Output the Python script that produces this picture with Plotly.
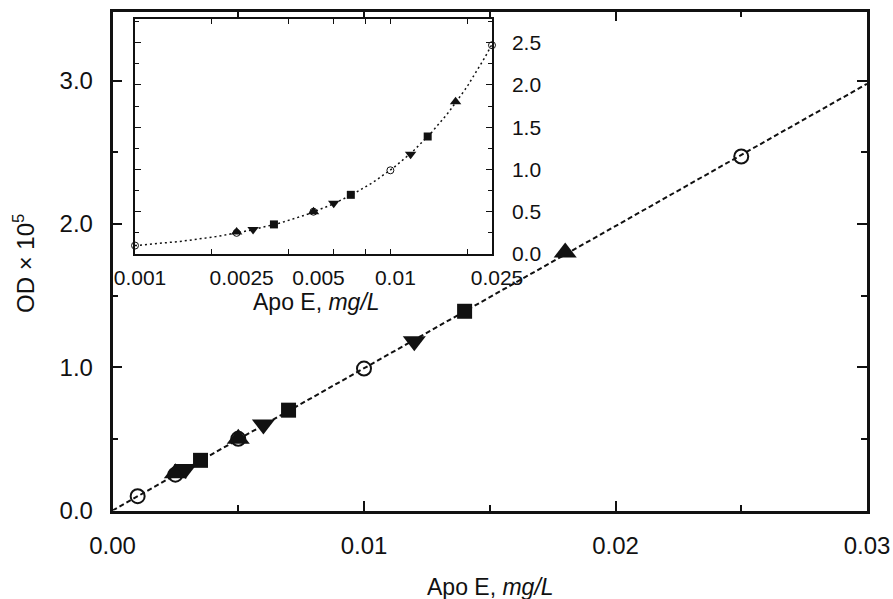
import numpy as np
import plotly.graph_objects as go

# ---- data ----
circle_x = [0.001, 0.0025, 0.005, 0.010, 0.025]
circle_y = [0.10, 0.25, 0.50, 0.99, 2.47]
tri_up_x = [0.0025, 0.005, 0.018]
tri_up_y = [0.26, 0.50, 1.80]
tri_dn_x = [0.0029, 0.006, 0.012]
tri_dn_y = [0.29, 0.60, 1.18]
square_x = [0.0035, 0.007, 0.014]
square_y = [0.35, 0.70, 1.39]

main_xticks = [0.0, 0.01, 0.02, 0.03]
main_xtext = ["0.00", "0.01", "0.02", "0.03"]
main_yticks = [0.0, 1.0, 2.0, 3.0]
main_ytext = ["0.0", "1.0", "2.0", "3.0"]
inset_xticks = [0.001, 0.0025, 0.005, 0.01, 0.025]
inset_xtext = ["0.001", "0.0025", "0.005", "0.01", "0.025"]
inset_xminor = [0.002, 0.004, 0.006, 0.008, 0.01, 0.02]
inset_yticks = [0.0, 0.5, 1.0, 1.5, 2.0, 2.5]
inset_ytext = ["0.0", "0.5", "1.0", "1.5", "2.0", "2.5"]

# fitted line through the origin (least squares from all the points)
all_x = np.array(circle_x + tri_up_x + tri_dn_x + square_x)
all_y = np.array(circle_y + tri_up_y + tri_dn_y + square_y)
slope = float((all_x * all_y).sum() / (all_x ** 2).sum())
fit_x_main = np.array([0.0, 0.03])
fit_x_inset = np.geomspace(0.001, 0.025, 120)

FONT = "Liberation Sans, Arial, Helvetica, sans-serif"
BLACK = "#111111"

fig = go.Figure()

# ---- main plot ----
fig.add_trace(go.Scatter(x=fit_x_main, y=slope * fit_x_main, mode="lines",
                         line=dict(color=BLACK, width=2, dash="5px,3px"),
                         xaxis="x", yaxis="y", hoverinfo="skip"))
main_series = [
    (circle_x, circle_y, "circle-open", 14, 2),
    (tri_up_x, tri_up_y, "triangle-up", 20, 0),
    (tri_dn_x, tri_dn_y, "triangle-down", 20, 0),
    (square_x, square_y, "square", 15, 0),
]
for xs, ys, sym, sz, lw in main_series:
    fig.add_trace(go.Scatter(x=xs, y=ys, mode="markers", cliponaxis=False,
                             marker=dict(symbol=sym, size=sz, color=BLACK,
                                         line=dict(color=BLACK, width=lw)),
                             xaxis="x", yaxis="y"))

# ---- inset ----
fig.add_trace(go.Scatter(x=fit_x_inset, y=slope * fit_x_inset, mode="lines",
                         line=dict(color=BLACK, width=1.5, dash="2px,3px"),
                         xaxis="x2", yaxis="y2", hoverinfo="skip", cliponaxis=False))
inset_series = [
    (circle_x, circle_y, "circle-open", 7, 1),
    (tri_up_x, tri_up_y, "triangle-up", 10, 0),
    (tri_dn_x, tri_dn_y, "triangle-down", 10, 0),
    (square_x, square_y, "square", 8, 0),
]
for xs, ys, sym, sz, lw in inset_series:
    fig.add_trace(go.Scatter(x=xs, y=ys, mode="markers", cliponaxis=False,
                             marker=dict(symbol=sym, size=sz, color=BLACK,
                                         line=dict(color=BLACK, width=lw)),
                             xaxis="x2", yaxis="y2"))

W, H = 893, 599
def px(v):
    return v / W
def py(v):
    return (H - v) / H

fig.update_layout(
    template="none",
    width=W, height=H, showlegend=False,
    margin=dict(l=0, r=0, t=0, b=0, pad=0),
    paper_bgcolor="white", plot_bgcolor="white",
    font=dict(family=FONT, color=BLACK),
    xaxis=dict(domain=[px(112.5), px(867)], range=[0, 0.03], anchor="y", automargin=False,
               showline=True, linecolor=BLACK, linewidth=2.5, mirror="ticks",
               showgrid=False, zeroline=False,
               tickmode="array", tickvals=main_xticks, ticktext=main_xtext,
               ticks="inside", ticklen=10, tickwidth=2, tickcolor=BLACK,
               minor=dict(dtick=0.005, ticks="inside", ticklen=6, tickwidth=2, tickcolor=BLACK,
                          showgrid=False),
               tickfont=dict(size=24), ticklabelstandoff=12),
    yaxis=dict(domain=[py(510.5), py(11.7)], range=[0, 3.48], anchor="x", automargin=False,
               showline=True, linecolor=BLACK, linewidth=2.5, mirror="ticks",
               showgrid=False, zeroline=False,
               tickmode="array", tickvals=main_yticks, ticktext=main_ytext,
               ticks="inside", ticklen=10, tickwidth=2, tickcolor=BLACK,
               minor=dict(dtick=0.5, ticks="inside", ticklen=6, tickwidth=2, tickcolor=BLACK,
                          showgrid=False),
               tickfont=dict(size=24), ticklabelstandoff=12),
    xaxis2=dict(domain=[px(135), px(492)], type="log", automargin=False,
                range=[np.log10(0.001), np.log10(0.025)], anchor="y2",
                showline=True, linecolor=BLACK, linewidth=1.5, mirror="ticks",
                showgrid=False, zeroline=False,
                tickmode="array", tickvals=inset_xticks, ticktext=inset_xtext,
                ticks="", tickfont=dict(size=21), ticklabelstandoff=4, ticklabelshift=5,
                minor=dict(tickmode="array", tickvals=inset_xminor, ticks="inside",
                           ticklen=5, tickwidth=1.2, tickcolor=BLACK, showgrid=False)),
    yaxis2=dict(domain=[py(254), py(19)], range=[0, 2.78], anchor="x2", side="right",
                automargin=False,
                showline=True, linecolor=BLACK, linewidth=1.5, mirror="ticks",
                showgrid=False, zeroline=False,
                tickmode="array", tickvals=inset_yticks, ticktext=inset_ytext,
                ticks="inside", ticklen=6, tickwidth=1.2, tickcolor=BLACK,
                minor=dict(dtick=0.25, ticks="inside", ticklen=4, tickwidth=1.2, tickcolor=BLACK,
                           showgrid=False),
                tickfont=dict(size=21), ticklabelstandoff=14),
    annotations=[
        dict(text="Apo E, <i>mg/L</i>", x=px(490), y=py(587), xref="paper", yref="paper",
             showarrow=False, font=dict(size=23), xanchor="center", yanchor="middle"),
        dict(text="Apo E, <i>mg/L</i>", x=px(316), y=py(302), xref="paper", yref="paper",
             showarrow=False, font=dict(size=23), xanchor="center", yanchor="middle"),
        dict(text="OD \u00d7 10<sup>5</sup>", x=px(24), y=py(264), xref="paper", yref="paper",
             showarrow=False, font=dict(size=24), textangle=-90,
             xanchor="center", yanchor="middle"),
    ],
)

fig.write_html("out.html",
               config={"displayModeBar": False},
               post_script="document.body.style.margin='0';document.body.style.padding='0';"
                           "document.documentElement.style.overflow='hidden';")
